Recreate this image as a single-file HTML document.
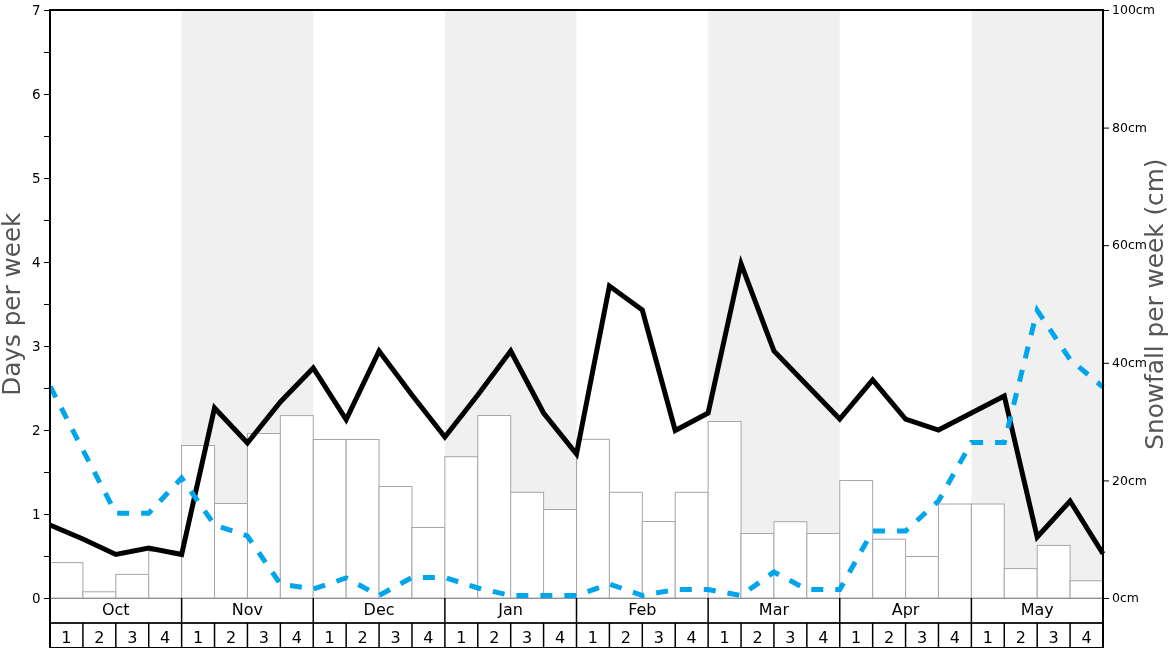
<!DOCTYPE html><html><head><meta charset="utf-8"><title>Snow history chart</title><style>
html,body{margin:0;padding:0;background:#fff;}body{width:1168px;height:648px;overflow:hidden;}
svg{display:block;will-change:transform;font-family:"DejaVu Sans","Liberation Sans",sans-serif;}
</style></head><body>
<svg width="1168" height="648" viewBox="0 0 1168 648">
<rect x="0" y="0" width="1168" height="648" fill="#fff"/>
<rect x="181.62" y="10.0" width="131.62" height="588.0" fill="#f0f0f0"/>
<rect x="444.88" y="10.0" width="131.62" height="588.0" fill="#f0f0f0"/>
<rect x="708.12" y="10.0" width="131.62" height="588.0" fill="#f0f0f0"/>
<rect x="971.38" y="10.0" width="131.62" height="588.0" fill="#f0f0f0"/>
<rect x="50.00" y="562.60" width="32.91" height="35.40" fill="#fff" stroke="#a6a6ab" stroke-width="1"/>
<rect x="82.91" y="591.80" width="32.91" height="6.20" fill="#fff" stroke="#a6a6ab" stroke-width="1"/>
<rect x="115.81" y="574.40" width="32.91" height="23.60" fill="#fff" stroke="#a6a6ab" stroke-width="1"/>
<rect x="148.72" y="551.30" width="32.91" height="46.70" fill="#fff" stroke="#a6a6ab" stroke-width="1"/>
<rect x="181.62" y="445.50" width="32.91" height="152.50" fill="#fff" stroke="#a6a6ab" stroke-width="1"/>
<rect x="214.53" y="503.50" width="32.91" height="94.50" fill="#fff" stroke="#a6a6ab" stroke-width="1"/>
<rect x="247.44" y="433.50" width="32.91" height="164.50" fill="#fff" stroke="#a6a6ab" stroke-width="1"/>
<rect x="280.34" y="415.60" width="32.91" height="182.40" fill="#fff" stroke="#a6a6ab" stroke-width="1"/>
<rect x="313.25" y="439.50" width="32.91" height="158.50" fill="#fff" stroke="#a6a6ab" stroke-width="1"/>
<rect x="346.16" y="439.50" width="32.91" height="158.50" fill="#fff" stroke="#a6a6ab" stroke-width="1"/>
<rect x="379.06" y="486.50" width="32.91" height="111.50" fill="#fff" stroke="#a6a6ab" stroke-width="1"/>
<rect x="411.97" y="527.50" width="32.91" height="70.50" fill="#fff" stroke="#a6a6ab" stroke-width="1"/>
<rect x="444.88" y="456.70" width="32.91" height="141.30" fill="#fff" stroke="#a6a6ab" stroke-width="1"/>
<rect x="477.78" y="415.50" width="32.91" height="182.50" fill="#fff" stroke="#a6a6ab" stroke-width="1"/>
<rect x="510.69" y="492.30" width="32.91" height="105.70" fill="#fff" stroke="#a6a6ab" stroke-width="1"/>
<rect x="543.59" y="509.50" width="32.91" height="88.50" fill="#fff" stroke="#a6a6ab" stroke-width="1"/>
<rect x="576.50" y="439.30" width="32.91" height="158.70" fill="#fff" stroke="#a6a6ab" stroke-width="1"/>
<rect x="609.41" y="492.30" width="32.91" height="105.70" fill="#fff" stroke="#a6a6ab" stroke-width="1"/>
<rect x="642.31" y="521.50" width="32.91" height="76.50" fill="#fff" stroke="#a6a6ab" stroke-width="1"/>
<rect x="675.22" y="492.30" width="32.91" height="105.70" fill="#fff" stroke="#a6a6ab" stroke-width="1"/>
<rect x="708.12" y="421.50" width="32.91" height="176.50" fill="#fff" stroke="#a6a6ab" stroke-width="1"/>
<rect x="741.03" y="533.50" width="32.91" height="64.50" fill="#fff" stroke="#a6a6ab" stroke-width="1"/>
<rect x="773.94" y="521.70" width="32.91" height="76.30" fill="#fff" stroke="#a6a6ab" stroke-width="1"/>
<rect x="806.84" y="533.50" width="32.91" height="64.50" fill="#fff" stroke="#a6a6ab" stroke-width="1"/>
<rect x="839.75" y="480.50" width="32.91" height="117.50" fill="#fff" stroke="#a6a6ab" stroke-width="1"/>
<rect x="872.66" y="539.20" width="32.91" height="58.80" fill="#fff" stroke="#a6a6ab" stroke-width="1"/>
<rect x="905.56" y="556.50" width="32.91" height="41.50" fill="#fff" stroke="#a6a6ab" stroke-width="1"/>
<rect x="938.47" y="504.00" width="32.91" height="94.00" fill="#fff" stroke="#a6a6ab" stroke-width="1"/>
<rect x="971.38" y="504.00" width="32.91" height="94.00" fill="#fff" stroke="#a6a6ab" stroke-width="1"/>
<rect x="1004.28" y="568.60" width="32.91" height="29.40" fill="#fff" stroke="#a6a6ab" stroke-width="1"/>
<rect x="1037.19" y="545.40" width="32.91" height="52.60" fill="#fff" stroke="#a6a6ab" stroke-width="1"/>
<rect x="1070.09" y="580.80" width="32.91" height="17.20" fill="#fff" stroke="#a6a6ab" stroke-width="1"/>
<line x1="50.0" y1="598.5" x2="1103.0" y2="598.5" stroke="#909095" stroke-width="1"/>
<polyline points="50.00,525 82.91,539 115.81,554.5 148.72,548 181.62,554.5 214.53,408 247.44,443 280.34,402 313.25,368 346.16,419.7 379.06,351 411.97,395 444.88,437 477.78,395 510.69,351 543.59,413 576.50,454 609.41,286 642.31,310 675.22,430.5 708.12,413 741.03,263.7 773.94,351 806.84,385 839.75,419 872.66,380 905.56,419 938.47,430 971.38,413 1004.28,396 1037.19,537 1070.09,501 1103.00,553.8" fill="none" stroke="#000" stroke-width="5" stroke-linejoin="miter"/>
<polyline points="50.00,386 82.91,450 115.81,513.3 148.72,513.3 181.62,478 214.53,525 247.44,536 280.34,584 313.25,589 346.16,578 379.06,595.5 411.97,577.5 444.88,577.5 477.78,588 510.69,595.5 543.59,595.5 576.50,595.5 609.41,584 642.31,595.5 675.22,589.6 708.12,589.6 741.03,595.5 773.94,572 806.84,589.5 839.75,589.5 872.66,531 905.56,531 938.47,501 971.38,442.5 1004.28,442.5 1037.19,310.4 1070.09,359.5 1103.00,387" fill="none" stroke="#00a5ec" stroke-width="5" stroke-dasharray="12 11.985" stroke-dashoffset="-0.74" stroke-linejoin="miter"/>
<line x1="181.62" y1="598.0" x2="181.62" y2="623" stroke="#000" stroke-width="1.5"/>
<line x1="313.25" y1="598.0" x2="313.25" y2="623" stroke="#000" stroke-width="1.5"/>
<line x1="444.88" y1="598.0" x2="444.88" y2="623" stroke="#000" stroke-width="1.5"/>
<line x1="576.50" y1="598.0" x2="576.50" y2="623" stroke="#000" stroke-width="1.5"/>
<line x1="708.12" y1="598.0" x2="708.12" y2="623" stroke="#000" stroke-width="1.5"/>
<line x1="839.75" y1="598.0" x2="839.75" y2="623" stroke="#000" stroke-width="1.5"/>
<line x1="971.38" y1="598.0" x2="971.38" y2="623" stroke="#000" stroke-width="1.5"/>
<line x1="50.0" y1="623" x2="1103.0" y2="623" stroke="#222" stroke-width="2"/>
<line x1="82.91" y1="623" x2="82.91" y2="648" stroke="#000" stroke-width="1.5"/>
<line x1="115.81" y1="623" x2="115.81" y2="648" stroke="#000" stroke-width="1.5"/>
<line x1="148.72" y1="623" x2="148.72" y2="648" stroke="#000" stroke-width="1.5"/>
<line x1="181.62" y1="623" x2="181.62" y2="648" stroke="#000" stroke-width="1.5"/>
<line x1="214.53" y1="623" x2="214.53" y2="648" stroke="#000" stroke-width="1.5"/>
<line x1="247.44" y1="623" x2="247.44" y2="648" stroke="#000" stroke-width="1.5"/>
<line x1="280.34" y1="623" x2="280.34" y2="648" stroke="#000" stroke-width="1.5"/>
<line x1="313.25" y1="623" x2="313.25" y2="648" stroke="#000" stroke-width="1.5"/>
<line x1="346.16" y1="623" x2="346.16" y2="648" stroke="#000" stroke-width="1.5"/>
<line x1="379.06" y1="623" x2="379.06" y2="648" stroke="#000" stroke-width="1.5"/>
<line x1="411.97" y1="623" x2="411.97" y2="648" stroke="#000" stroke-width="1.5"/>
<line x1="444.88" y1="623" x2="444.88" y2="648" stroke="#000" stroke-width="1.5"/>
<line x1="477.78" y1="623" x2="477.78" y2="648" stroke="#000" stroke-width="1.5"/>
<line x1="510.69" y1="623" x2="510.69" y2="648" stroke="#000" stroke-width="1.5"/>
<line x1="543.59" y1="623" x2="543.59" y2="648" stroke="#000" stroke-width="1.5"/>
<line x1="576.50" y1="623" x2="576.50" y2="648" stroke="#000" stroke-width="1.5"/>
<line x1="609.41" y1="623" x2="609.41" y2="648" stroke="#000" stroke-width="1.5"/>
<line x1="642.31" y1="623" x2="642.31" y2="648" stroke="#000" stroke-width="1.5"/>
<line x1="675.22" y1="623" x2="675.22" y2="648" stroke="#000" stroke-width="1.5"/>
<line x1="708.12" y1="623" x2="708.12" y2="648" stroke="#000" stroke-width="1.5"/>
<line x1="741.03" y1="623" x2="741.03" y2="648" stroke="#000" stroke-width="1.5"/>
<line x1="773.94" y1="623" x2="773.94" y2="648" stroke="#000" stroke-width="1.5"/>
<line x1="806.84" y1="623" x2="806.84" y2="648" stroke="#000" stroke-width="1.5"/>
<line x1="839.75" y1="623" x2="839.75" y2="648" stroke="#000" stroke-width="1.5"/>
<line x1="872.66" y1="623" x2="872.66" y2="648" stroke="#000" stroke-width="1.5"/>
<line x1="905.56" y1="623" x2="905.56" y2="648" stroke="#000" stroke-width="1.5"/>
<line x1="938.47" y1="623" x2="938.47" y2="648" stroke="#000" stroke-width="1.5"/>
<line x1="971.38" y1="623" x2="971.38" y2="648" stroke="#000" stroke-width="1.5"/>
<line x1="1004.28" y1="623" x2="1004.28" y2="648" stroke="#000" stroke-width="1.5"/>
<line x1="1037.19" y1="623" x2="1037.19" y2="648" stroke="#000" stroke-width="1.5"/>
<line x1="1070.09" y1="623" x2="1070.09" y2="648" stroke="#000" stroke-width="1.5"/>
<line x1="50.0" y1="648" x2="1103.0" y2="648" stroke="#000" stroke-width="2"/>
<line x1="49.0" y1="10.0" x2="1104.0" y2="10.0" stroke="#000" stroke-width="2"/>
<line x1="50.0" y1="9.0" x2="50.0" y2="648" stroke="#000" stroke-width="2"/>
<line x1="1103.0" y1="9.0" x2="1103.0" y2="648" stroke="#000" stroke-width="2"/>
<line x1="44" y1="598.50" x2="49" y2="598.50" stroke="#000" stroke-width="1"/>
<line x1="44" y1="556.50" x2="49" y2="556.50" stroke="#000" stroke-width="1"/>
<line x1="44" y1="514.50" x2="49" y2="514.50" stroke="#000" stroke-width="1"/>
<line x1="44" y1="472.50" x2="49" y2="472.50" stroke="#000" stroke-width="1"/>
<line x1="44" y1="430.50" x2="49" y2="430.50" stroke="#000" stroke-width="1"/>
<line x1="44" y1="388.50" x2="49" y2="388.50" stroke="#000" stroke-width="1"/>
<line x1="44" y1="346.50" x2="49" y2="346.50" stroke="#000" stroke-width="1"/>
<line x1="44" y1="304.50" x2="49" y2="304.50" stroke="#000" stroke-width="1"/>
<line x1="44" y1="262.50" x2="49" y2="262.50" stroke="#000" stroke-width="1"/>
<line x1="44" y1="220.50" x2="49" y2="220.50" stroke="#000" stroke-width="1"/>
<line x1="44" y1="178.50" x2="49" y2="178.50" stroke="#000" stroke-width="1"/>
<line x1="44" y1="136.50" x2="49" y2="136.50" stroke="#000" stroke-width="1"/>
<line x1="44" y1="94.50" x2="49" y2="94.50" stroke="#000" stroke-width="1"/>
<line x1="44" y1="52.50" x2="49" y2="52.50" stroke="#000" stroke-width="1"/>
<line x1="44" y1="10.50" x2="49" y2="10.50" stroke="#000" stroke-width="1"/>
<text x="40.5" y="597.50" font-size="13.5" text-anchor="end" dominant-baseline="central" fill="#000">0</text>
<text x="40.5" y="513.50" font-size="13.5" text-anchor="end" dominant-baseline="central" fill="#000">1</text>
<text x="40.5" y="429.50" font-size="13.5" text-anchor="end" dominant-baseline="central" fill="#000">2</text>
<text x="40.5" y="345.50" font-size="13.5" text-anchor="end" dominant-baseline="central" fill="#000">3</text>
<text x="40.5" y="261.50" font-size="13.5" text-anchor="end" dominant-baseline="central" fill="#000">4</text>
<text x="40.5" y="177.50" font-size="13.5" text-anchor="end" dominant-baseline="central" fill="#000">5</text>
<text x="40.5" y="93.50" font-size="13.5" text-anchor="end" dominant-baseline="central" fill="#000">6</text>
<text x="40.5" y="9.50" font-size="13.5" text-anchor="end" dominant-baseline="central" fill="#000">7</text>
<line x1="1104" y1="598.50" x2="1109" y2="598.50" stroke="#000" stroke-width="1"/>
<text x="1112" y="597.70" font-size="12.5" dominant-baseline="central" fill="#000">0cm</text>
<line x1="1104" y1="480.90" x2="1109" y2="480.90" stroke="#000" stroke-width="1"/>
<text x="1112" y="480.10" font-size="12.5" dominant-baseline="central" fill="#000">20cm</text>
<line x1="1104" y1="363.30" x2="1109" y2="363.30" stroke="#000" stroke-width="1"/>
<text x="1112" y="362.50" font-size="12.5" dominant-baseline="central" fill="#000">40cm</text>
<line x1="1104" y1="245.70" x2="1109" y2="245.70" stroke="#000" stroke-width="1"/>
<text x="1112" y="244.90" font-size="12.5" dominant-baseline="central" fill="#000">60cm</text>
<line x1="1104" y1="128.10" x2="1109" y2="128.10" stroke="#000" stroke-width="1"/>
<text x="1112" y="127.30" font-size="12.5" dominant-baseline="central" fill="#000">80cm</text>
<line x1="1104" y1="10.50" x2="1109" y2="10.50" stroke="#000" stroke-width="1"/>
<text x="1112" y="9.70" font-size="12.5" dominant-baseline="central" fill="#000">100cm</text>
<text x="115.81" y="615" font-size="16" text-anchor="middle" fill="#000">Oct</text>
<text x="247.44" y="615" font-size="16" text-anchor="middle" fill="#000">Nov</text>
<text x="379.06" y="615" font-size="16" text-anchor="middle" fill="#000">Dec</text>
<text x="510.69" y="615" font-size="16" text-anchor="middle" fill="#000">Jan</text>
<text x="642.31" y="615" font-size="16" text-anchor="middle" fill="#000">Feb</text>
<text x="773.94" y="615" font-size="16" text-anchor="middle" fill="#000">Mar</text>
<text x="905.56" y="615" font-size="16" text-anchor="middle" fill="#000">Apr</text>
<text x="1037.19" y="615" font-size="16" text-anchor="middle" fill="#000">May</text>
<text x="66.45" y="642.5" font-size="16" text-anchor="middle" fill="#000">1</text>
<text x="99.36" y="642.5" font-size="16" text-anchor="middle" fill="#000">2</text>
<text x="132.27" y="642.5" font-size="16" text-anchor="middle" fill="#000">3</text>
<text x="165.17" y="642.5" font-size="16" text-anchor="middle" fill="#000">4</text>
<text x="198.08" y="642.5" font-size="16" text-anchor="middle" fill="#000">1</text>
<text x="230.98" y="642.5" font-size="16" text-anchor="middle" fill="#000">2</text>
<text x="263.89" y="642.5" font-size="16" text-anchor="middle" fill="#000">3</text>
<text x="296.80" y="642.5" font-size="16" text-anchor="middle" fill="#000">4</text>
<text x="329.70" y="642.5" font-size="16" text-anchor="middle" fill="#000">1</text>
<text x="362.61" y="642.5" font-size="16" text-anchor="middle" fill="#000">2</text>
<text x="395.52" y="642.5" font-size="16" text-anchor="middle" fill="#000">3</text>
<text x="428.42" y="642.5" font-size="16" text-anchor="middle" fill="#000">4</text>
<text x="461.33" y="642.5" font-size="16" text-anchor="middle" fill="#000">1</text>
<text x="494.23" y="642.5" font-size="16" text-anchor="middle" fill="#000">2</text>
<text x="527.14" y="642.5" font-size="16" text-anchor="middle" fill="#000">3</text>
<text x="560.05" y="642.5" font-size="16" text-anchor="middle" fill="#000">4</text>
<text x="592.95" y="642.5" font-size="16" text-anchor="middle" fill="#000">1</text>
<text x="625.86" y="642.5" font-size="16" text-anchor="middle" fill="#000">2</text>
<text x="658.77" y="642.5" font-size="16" text-anchor="middle" fill="#000">3</text>
<text x="691.67" y="642.5" font-size="16" text-anchor="middle" fill="#000">4</text>
<text x="724.58" y="642.5" font-size="16" text-anchor="middle" fill="#000">1</text>
<text x="757.48" y="642.5" font-size="16" text-anchor="middle" fill="#000">2</text>
<text x="790.39" y="642.5" font-size="16" text-anchor="middle" fill="#000">3</text>
<text x="823.30" y="642.5" font-size="16" text-anchor="middle" fill="#000">4</text>
<text x="856.20" y="642.5" font-size="16" text-anchor="middle" fill="#000">1</text>
<text x="889.11" y="642.5" font-size="16" text-anchor="middle" fill="#000">2</text>
<text x="922.02" y="642.5" font-size="16" text-anchor="middle" fill="#000">3</text>
<text x="954.92" y="642.5" font-size="16" text-anchor="middle" fill="#000">4</text>
<text x="987.83" y="642.5" font-size="16" text-anchor="middle" fill="#000">1</text>
<text x="1020.73" y="642.5" font-size="16" text-anchor="middle" fill="#000">2</text>
<text x="1053.64" y="642.5" font-size="16" text-anchor="middle" fill="#000">3</text>
<text x="1086.55" y="642.5" font-size="16" text-anchor="middle" fill="#000">4</text>
<text transform="translate(20,304.2) rotate(-90)" font-size="24.7" text-anchor="middle" fill="#555">Days per week</text>
<text transform="translate(1163,304.1) rotate(-90)" font-size="24.75" text-anchor="middle" fill="#555">Snowfall per week (cm)</text>
</svg></body></html>
